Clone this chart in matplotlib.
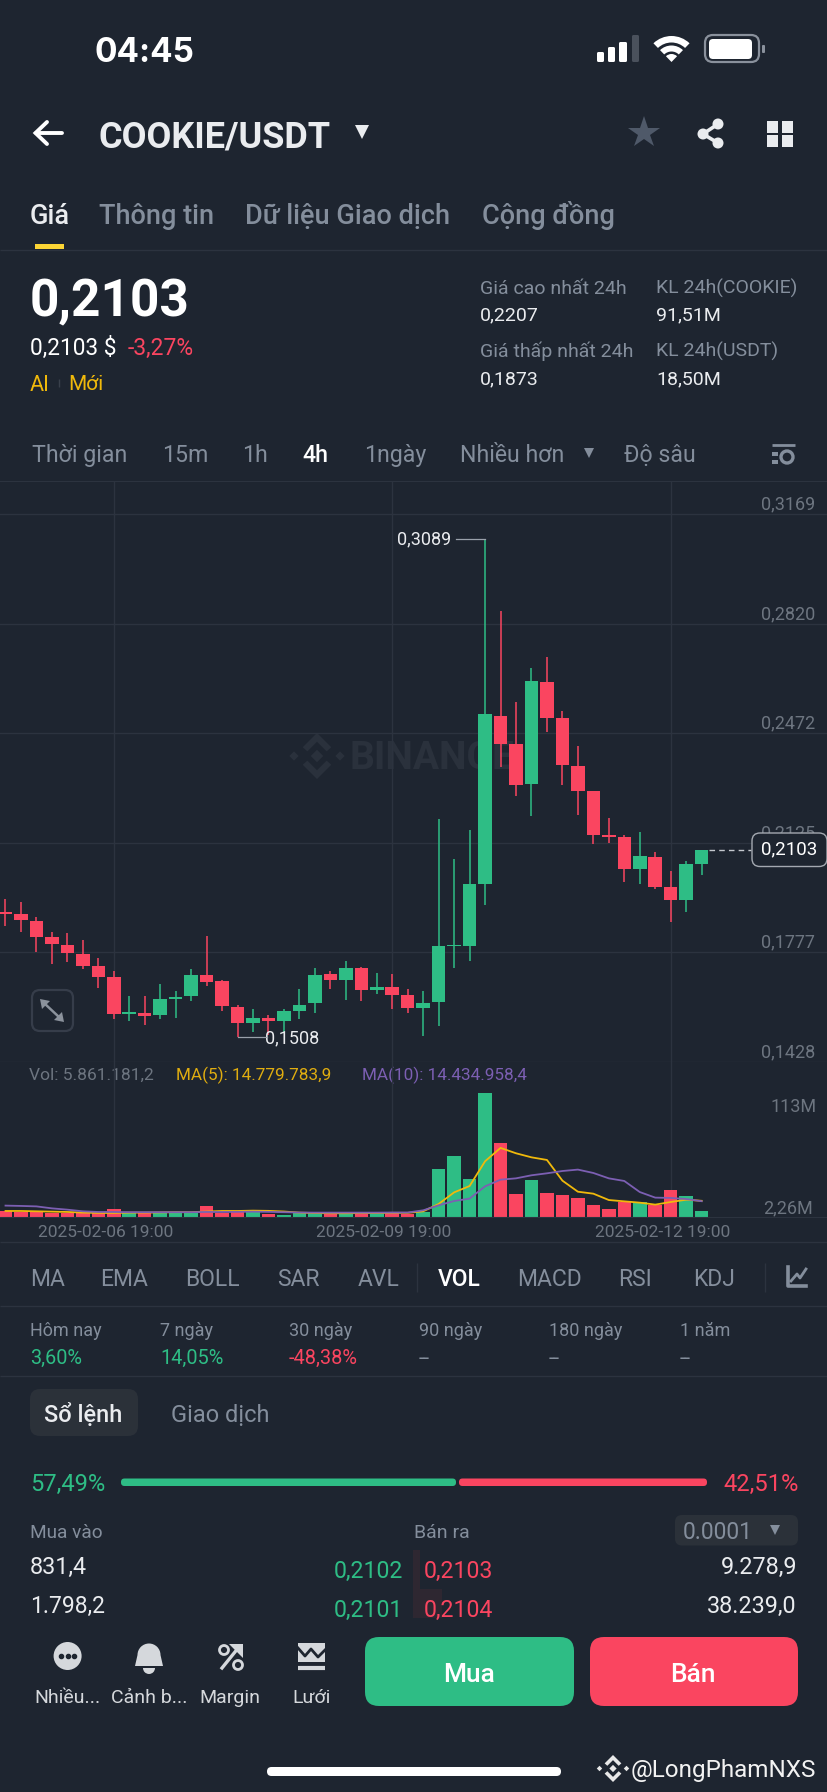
import matplotlib
matplotlib.use('Agg')
import matplotlib.pyplot as plt
from matplotlib.patches import FancyBboxPatch, Rectangle, Wedge, Circle, Polygon
import numpy as np

plt.rcParams['font.family'] = ['Roboto', 'Noto Sans', 'DejaVu Sans']

# candles, 4h
opens = [0.1904, 0.1900, 0.1877, 0.1825, 0.1802, 0.1773, 0.1733, 0.1700, 0.1582, 0.1586,
         0.1577, 0.1629, 0.1638, 0.1704, 0.1685, 0.1605, 0.1552, 0.1570, 0.1558, 0.1591,
         0.1615, 0.1707, 0.1689, 0.1728, 0.1657, 0.1667, 0.1642, 0.1602, 0.1619, 0.1796,
         0.1796, 0.1995, 0.2527, 0.2437, 0.2311, 0.2635, 0.2520, 0.2370, 0.2288, 0.2148,
         0.2143, 0.2043, 0.2081, 0.1983, 0.1943, 0.2058]
highs = [0.1948, 0.1937, 0.1889, 0.1843, 0.1840, 0.1815, 0.1758, 0.1717, 0.1639, 0.1639,
         0.1676, 0.1656, 0.1724, 0.1829, 0.1688, 0.1609, 0.1598, 0.1577, 0.1598, 0.1660,
         0.1727, 0.1719, 0.1749, 0.1731, 0.1713, 0.1707, 0.1660, 0.1653, 0.2201, 0.2073,
         0.2164, 0.3089, 0.2859, 0.2570, 0.2681, 0.2715, 0.2543, 0.2433, 0.2288, 0.2205,
         0.2148, 0.2158, 0.2096, 0.2035, 0.2067, 0.2103]
lows = [0.1861, 0.1843, 0.1779, 0.1739, 0.1746, 0.1725, 0.1664, 0.1566, 0.1560, 0.1547,
        0.1566, 0.1569, 0.1622, 0.1670, 0.1592, 0.1508, 0.1526, 0.1515, 0.1523, 0.1565,
        0.1586, 0.1660, 0.1625, 0.1622, 0.1646, 0.1598, 0.1586, 0.1512, 0.1545, 0.1728,
        0.1750, 0.1927, 0.2364, 0.2274, 0.2210, 0.2476, 0.2309, 0.2214, 0.2120, 0.2125,
        0.2001, 0.1995, 0.1977, 0.1872, 0.1905, 0.2024]
closes = [0.1900, 0.1880, 0.1826, 0.1803, 0.1775, 0.1733, 0.1700, 0.1581, 0.1588, 0.1576,
          0.1628, 0.1637, 0.1704, 0.1684, 0.1606, 0.1553, 0.1570, 0.1559, 0.1591, 0.1611,
          0.1706, 0.1689, 0.1728, 0.1657, 0.1668, 0.1642, 0.1602, 0.1616, 0.1796, 0.1801,
          0.1995, 0.2532, 0.2438, 0.2309, 0.2637, 0.2522, 0.2371, 0.2289, 0.2149, 0.2143,
          0.2042, 0.2082, 0.1986, 0.1943, 0.2057, 0.2103]

# volume in millions
volumes = [5.5, 4.6, 4.6, 3.4, 4.0, 3.4, 3.4, 7.0, 4.0, 4.0, 4.0, 3.7, 3.7, 10.1, 4.0, 4.6,
           4.6, 2.7, 1.8, 3.4, 3.4, 3.4, 3.4, 4.0, 4.0, 4.0, 3.0, 4.3, 43.9, 55.4, 35.0, 113.0,
           67.3, 21.3, 34.1, 21.6, 19.8, 17.7, 11.0, 7.3, 13.4, 13.4, 10.7, 24.4, 19.2, 5.86]
ma5 = [5.5, 5.5, 5.2, 4.9, 4.6, 4.0, 3.7, 3.7, 4.0, 4.0, 4.2, 4.4, 4.4, 5.0, 5.5, 5.5,
       5.8, 5.6, 5.0, 4.0, 3.6, 3.4, 3.4, 3.6, 3.6, 3.8, 3.8, 5.2, 11.9, 22.5, 28.3, 50.9,
       63.1, 58.2, 54.5, 52.1, 33.2, 23.1, 21.3, 15.5, 14.3, 13.1, 11.3, 13.7, 15.8, 14.78]
ma10 = [10.4, 10.1, 9.7, 7.9, 6.7, 5.2, 4.6, 4.6, 4.4, 4.4, 4.4, 4.4, 4.4, 4.6, 4.6, 4.7,
        4.9, 4.7, 4.4, 4.1, 4.0, 4.0, 4.0, 4.0, 4.0, 4.1, 4.1, 6.1, 10.7, 14.6, 16.8, 28.0,
        34.1, 35.3, 38.1, 39.9, 42.0, 43.3, 40.2, 35.3, 32.9, 22.8, 17.7, 17.4, 16.4, 14.43]

price_ticks = [0.3169, 0.2820, 0.2472, 0.2125, 0.1777, 0.1428]
date_ticks = [7, 25, 43]
date_labels = ['2025-02-06 19:00', '2025-02-09 19:00', '2025-02-12 19:00']

tabs = ['Giá', 'Thông tin', 'Dữ liệu Giao dịch', 'Cộng đồng']
tab_x = [30, 99, 245, 482]
frames = ['Thời gian', '15m', '1h', '4h', '1ngày', 'Nhiều hơn', 'Độ sâu']
frame_x = [32, 162, 242, 302, 364, 460, 624]
indicators = ['MA', 'EMA', 'BOLL', 'SAR', 'AVL', 'VOL', 'MACD', 'RSI', 'KDJ']
indicator_x = [30, 100, 185, 277, 358, 438, 517, 618, 693]
periods = ['Hôm nay', '7 ngày', '30 ngày', '90 ngày', '180 ngày', '1 năm']
period_values = ['3,60%', '14,05%', '-48,38%', '--', '--', '--']
period_x = [30, 160, 289, 419, 549, 680]

BG = '#1e2530'
GRID = '#2c333f'
GREEN = '#2ebd85'
RED = '#fa4560'
GRAY = '#848e9c'
DIM = '#6d7580'
WHITE = '#eaecef'
YELLOW = '#f0b90b'
PURPLE = '#7c5fb3'

W, H = 828, 1792
fig = plt.figure(figsize=(W / 100, H / 100), dpi=100, facecolor=BG)


def px_axes(top, bottom, z):
    a = fig.add_axes([0, 1 - bottom / H, 1, (bottom - top) / H], zorder=z)
    a.patch.set_alpha(0)
    return a


ui = px_axes(0, H, 0)
ui.set_xlim(0, W)
ui.set_ylim(H, 0)
ui.axis('off')


def label(x, y, s, size=13, color=WHITE, ha='left', weight='normal', **kw):
    # y is the middle of the capitals, so accents do not shift the line
    ui.text(x, y + 0.36 * size * 100 / 72, s, fontsize=size, color=color, ha=ha,
            va='baseline', fontweight=weight, **kw)


def rbox(x0, y0, x1, y1, r, **kw):
    ui.add_patch(FancyBboxPatch((x0, y0), x1 - x0, y1 - y0, boxstyle='round,pad=0,rounding_size=%g' % r, **kw))


def hline(y, x0=0, x1=W, color=GRID, lw=1):
    ui.plot([x0, x1], [y, y], color=color, lw=lw, solid_capstyle='butt')


def vline(x, y0, y1, color=GRID, lw=1):
    ui.plot([x, x], [y0, y1], color=color, lw=lw, solid_capstyle='butt')


def logo(cx, cy, s, color):
    d = s * 0.27
    for dx, dy, r in [(0, 0, d), (-s, 0, d * 0.75), (s, 0, d * 0.75)]:
        ui.add_patch(Polygon([(cx + dx - r, cy + dy), (cx + dx, cy + dy - r), (cx + dx + r, cy + dy),
                              (cx + dx, cy + dy + r)], color=color, lw=0))
    for sign in (-1, 1):
        ui.add_patch(Polygon([(cx - s * 0.62, cy + sign * s * 0.38), (cx, cy + sign * s * 1.0),
                              (cx + s * 0.62, cy + sign * s * 0.38), (cx + s * 0.42, cy + sign * s * 0.2),
                              (cx, cy + sign * s * 0.62), (cx - s * 0.42, cy + sign * s * 0.2)],
                             color=color, lw=0))


# status bar
label(95, 50, '04:45', size=24, weight='bold', color='white', family=['Inter', 'Roboto'])
for x0, x1, top, col in [(597, 604, 52, 'white'), (608, 615, 47, 'white'), (619, 627, 42, 'white'),
                         (632, 639, 35, '#4a515c')]:
    rbox(x0, top, x1, 62, 1.5, fc=col, ec='none')
for r, wd in [(26, 6.5), (16.5, 6)]:
    ui.add_patch(Wedge((671.5, 62), r, 226, 314, width=wd, fc='white', ec='none'))
ui.add_patch(Wedge((671.5, 62), 8, 226, 314, fc='white', ec='none'))
rbox(705, 35, 759, 62, 8, fc='none', ec='#8a919c', lw=1.6)
rbox(709, 39, 752, 59, 4, fc='white', ec='none')
rbox(762, 45, 765, 53, 1, fc='#8a919c', ec='none')

# header
ui.plot([36, 62], [133, 133], color='white', lw=2.8, solid_capstyle='round')
ui.plot([47, 35.5, 47], [122, 133, 144], color='white', lw=2.8, solid_capstyle='round', solid_joinstyle='miter')
label(99, 134, 'COOKIE/USDT', size=26, weight='bold')
ui.plot(362.5, 132, marker='v', ms=10, color=WHITE, mew=0)
ui.plot(644.5, 133, marker='*', ms=24, color='#4f5969', mew=0)
ui.plot([718, 703, 718], [124, 134, 143], color=WHITE, lw=2.6)
for cx, cy in [(718, 124), (703, 134), (718, 143)]:
    ui.add_patch(Circle((cx, cy), 5.5, fc=WHITE, ec='none'))
for x0, y0 in [(767, 121), (782, 121), (767, 135), (782, 135)]:
    ui.add_patch(Rectangle((x0, y0), 11.5, 12, fc=WHITE, ec='none'))

# tabs
for i, (t, x) in enumerate(zip(tabs, tab_x)):
    label(x, 214, t, size=19.5, color=WHITE if i == 0 else GRAY, weight='medium')
ui.add_patch(Rectangle((35, 244), 29, 5, fc='#fcd535', ec='none'))
hline(250)

# price block
label(30, 298, '0,2103', size=37, weight='bold', color='white')
label(30, 347, '0,2103 $', size=16.3, color='white')
label(128, 347, '-3,27%', size=16.5, color=RED)
label(30, 383, 'AI', size=15.5, color=YELLOW)
label(68, 383, 'Mới', size=15, color=YELLOW)
vline(59, 379, 387, color='#39404b')
label(480, 287, 'Giá cao nhất 24h', size=14, color=GRAY)
label(656, 287, 'KL 24h(COOKIE)', size=14, color=GRAY)
label(480, 313, '0,2207', size=14)
label(656, 313, '91,51M', size=14)
label(480, 350, 'Giá thấp nhất 24h', size=14, color=GRAY)
label(656, 350, 'KL 24h(USDT)', size=14, color=GRAY)
label(480, 377, '0,1873', size=14)
label(656, 377, '18,50M', size=14)

# time frame row
for t, x in zip(frames, frame_x):
    label(x, 454, t, size=16.7, color='white' if t == '4h' else GRAY, weight='medium' if t == '4h' else 'normal')
ui.plot(589.5, 453, marker='v', ms=7, color=GRAY, mew=0)
hline(445, 772, 795, color=GRAY, lw=2)
ui.add_patch(Rectangle((772, 452), 6, 4, fc=GRAY, ec='none'))
ui.add_patch(Rectangle((772, 460), 6, 4, fc=GRAY, ec='none'))
ui.add_patch(Circle((787, 457), 6, fc='none', ec=GRAY, lw=2.4))

# watermark sits under the chart
logo(317, 756, 23, '#2a313c')
ui.text(350, 769, 'BINANCE', fontsize=28, fontweight='bold', color='#2a313c', va='baseline')

# candle pane
xlo, xhi = -5.5 / 15.47, (W - 5.5) / 15.47
idx = np.arange(len(closes))
o, h, l, c = map(np.array, (opens, highs, lows, closes))
colors = [GREEN if c[i] >= o[i] else RED for i in idx]

ax = px_axes(481, 1062.4, 2)
ax.vlines(idx, l, h, colors=colors, lw=1.1, zorder=3)
body = np.maximum(np.abs(c - o), 0.0005)
ax.bar(idx, body, bottom=np.minimum(o, c), width=0.875, color=colors, zorder=3)
ax.set_xlim(xlo, xhi)
ax.set_ylim(0.1428, 0.3169 + 32.7 / 3151.6)
ax.set_yticks(price_ticks)
ax.set_xticks(date_ticks)
ax.grid(True, color=GRID, lw=1)
ax.set_axisbelow(True)
ax.tick_params(length=0, labelleft=False, labelbottom=False)
for name, sp in ax.spines.items():
    sp.set_visible(name == 'top')
    sp.set_color(GRID)

for p in price_ticks:
    ax.annotate(('%.4f' % p).replace('.', ','), xy=(788 / W, p), xycoords=ax.get_yaxis_transform(),
                xytext=(0, 7), textcoords='offset points', ha='center', va='center', fontsize=13, color=DIM)

# max / min marks
imax, imin = int(np.argmax(h)), int(np.argmin(l))
ax.annotate('0,3089', xy=(imax, h[imax]), xytext=(424, 539.3), textcoords=ui.transData, ha='center', va='center',
            fontsize=13, color=WHITE)
ax.plot([imax - 1.87, imax], [h[imax], h[imax]], color='#9aa1ab', lw=0.9, zorder=4)
ax.annotate('0,1508', xy=(imin, l[imin]), xytext=(292, 1038.7), textcoords=ui.transData, ha='center', va='center',
            fontsize=13, color=WHITE)
ax.plot([imin, imin + 1.9], [l[imin], l[imin]], color='#9aa1ab', lw=0.9, zorder=4)

# last price tag
ax.plot([idx[-1] + 0.45, idx[-1] + 3.2], [c[-1], c[-1]], color='#c4c8ce', lw=1, ls=(0, (4, 3)), zorder=4)
ax.add_patch(FancyBboxPatch((752, 833), 75, 33.5, boxstyle='round,pad=0,rounding_size=8', fc=BG, ec='#a4a9b1', lw=1,
                            transform=ui.transData, clip_on=False, zorder=6))
ax.text(789 / W, c[-1], '0,2103', transform=ax.get_yaxis_transform(), ha='center', va='center', fontsize=13.5,
        color='white', zorder=7)

# expand button
rbox(32, 990, 73, 1031, 8, fc='none', ec='#363d4a', lw=1.6)
ui.plot([44, 60], [1003, 1018], color='#8b929c', lw=1.8)
ui.add_patch(Polygon([(40, 999), (50, 1001), (42, 1009)], fc='#8b929c', ec='none'))
ui.add_patch(Polygon([(64, 1022), (54, 1020), (62, 1012)], fc='#8b929c', ec='none'))

# volume pane
label(29, 1074, 'Vol: 5.861.181,2', size=12.5, color=DIM)
label(176, 1074, 'MA(5): 14.779.783,9', size=12.3, color='#e0ad10')
label(362, 1074, 'MA(10): 14.434.958,4', size=12.3, color=PURPLE)

vax = px_axes(1062.4, 1217, 2)
vax.bar(idx, volumes, width=0.875, color=colors, zorder=2)
vax.plot(idx, ma5, color=YELLOW, lw=1.3, zorder=3)
vax.plot(idx, ma10, color=PURPLE, lw=1.3, zorder=3)
vax.set_xlim(xlo, xhi)
vax.set_ylim(0, 141.2)
vax.set_xticks(date_ticks)
vax.set_yticks([])
vax.grid(True, axis='x', color=GRID, lw=1)
vax.set_axisbelow(True)
vax.tick_params(length=0, labelbottom=False)
for name, sp in vax.spines.items():
    sp.set_visible(name == 'bottom')
    sp.set_color(GRID)
for t, s in zip(date_ticks, date_labels):
    vax.annotate(s, xy=(t, 0), xytext=(-6, -11.5), textcoords='offset points', ha='center', va='center', fontsize=12.5,
                 color=DIM)
label(817, 1105, '113M', size=13, color=DIM, ha='right')
label(813, 1207, '2,26M', size=13, color=DIM, ha='right')
hline(1242)

# indicator row
for t, x in zip(indicators, indicator_x):
    label(x, 1278, t, size=16.5, color='white' if t == 'VOL' else GRAY, weight='medium' if t == 'VOL' else 'normal')
vline(417, 1263, 1292)
vline(765, 1263, 1292)
ui.plot([788, 788, 806], [1267, 1286, 1286], color=GRAY, lw=2.6)
ui.plot([791, 797, 800, 806], [1281, 1274, 1278, 1269], color=GRAY, lw=2)
hline(1306)

# period returns
for t, v, x in zip(periods, period_values, period_x):
    label(x, 1329.5, t, size=13, color=GRAY)
    col = GREEN if v[0].isdigit() else RED if v[0] == '-' and len(v) > 2 else GRAY
    label(x, 1356.5, v, size=14.3, color=col)
hline(1376.5)

# order book
rbox(30, 1389, 138, 1436, 10, fc='#2b3139', ec='none')
label(83.5, 1413.5, 'Sổ lệnh', size=17, ha='center', color=WHITE, weight='medium')
label(171, 1413.5, 'Giao dịch', size=17, color=GRAY)
label(30, 1482, '57,49%', size=17, color=GREEN)
label(723, 1482, '42,51%', size=17, color=RED)
rbox(121, 1478.5, 456, 1486, 3.5, fc=GREEN, ec='none')
rbox(459, 1478.5, 707, 1486, 3.5, fc=RED, ec='none')
label(30, 1531, 'Mua vào', size=13.7, color=GRAY)
label(414, 1531, 'Bán ra', size=14, color=GRAY)
rbox(675, 1515, 798, 1545.5, 7, fc='#2b3139', ec='none')
label(683, 1531, '0.0001', size=16.5, color=GRAY)
ui.plot(775, 1530, marker='v', ms=7, color=GRAY, mew=0)
ui.add_patch(Rectangle((413, 1550), 7, 39, fc='#2e2731', ec='none'))
ui.add_patch(Rectangle((413, 1589), 29, 29, fc='#2e2731', ec='none'))
label(30, 1566, '831,4', size=16.8)
label(30, 1605, '1.798,2', size=16.5)
label(797, 1566, '9.278,9', size=16.8, ha='right')
label(797, 1605, '38.239,0', size=16.8, ha='right')
label(334, 1570, '0,2102', size=16.7, color=GREEN)
label(334, 1608.5, '0,2101', size=16.7, color=GREEN)
label(424, 1570, '0,2103', size=16.7, color=RED)
label(424, 1608.5, '0,2104', size=16.7, color=RED)

# bottom bar
ui.add_patch(Circle((67.6, 1656), 14, fc='#d5d8dc', ec='none'))
ui.plot([61, 67.6, 74], [1656, 1656, 1656], ls='none', marker='o', ms=3, color=BG)
ui.add_patch(Wedge((149, 1655), 11.5, 180, 360, fc='#d5d8dc', ec='none'))
ui.add_patch(Polygon([(137.5, 1655), (160.5, 1655), (163, 1666), (135, 1666)], fc='#d5d8dc', ec='none'))
ui.add_patch(Wedge((149, 1668), 6, 0, 180, fc='#d5d8dc', ec='none'))
ui.plot([222, 239], [1668, 1647], color='#d5d8dc', lw=2.4)
ui.add_patch(Polygon([(229, 1644), (243, 1644), (243, 1658)], fc='#d5d8dc', ec='none'))
ui.add_patch(Circle((224, 1650), 4.5, fc='none', ec='#d5d8dc', lw=2))
ui.add_patch(Circle((238, 1665), 4.5, fc='none', ec='#d5d8dc', lw=2))
ui.add_patch(Polygon([(298, 1643), (325, 1643), (325, 1662), (298, 1662)], fc='#d5d8dc', ec='none'))
ui.plot([298, 305, 311, 318, 325], [1648, 1656, 1649, 1657, 1650], color=BG, lw=2)
hline(1668, 298, 325, color='#d5d8dc', lw=3)
for t, x in zip(['Nhiều...', 'Cảnh b...', 'Margin', 'Lưới'], [67.6, 149, 230, 311.5]):
    label(x, 1696, t, size=14, ha='center', color='#d5d8dc')
rbox(365, 1637, 574, 1706, 14, fc=GREEN, ec='none')
rbox(590, 1637, 798, 1706, 14, fc=RED, ec='none')
label(469, 1673, 'Mua', size=19, ha='center', color='white', weight='medium')
label(693, 1673, 'Bán', size=19, ha='center', color='white', weight='medium')

# home bar and repost mark
rbox(267, 1767, 561, 1776, 4.5, fc='white', ec='none')
logo(613, 1768.5, 13.5, '#e8e8e8')
label(631, 1768.5, '@LongPhamNXS', size=17.5, color='#f2f2f2')

fig.savefig('out.png', dpi=100, facecolor=BG)
